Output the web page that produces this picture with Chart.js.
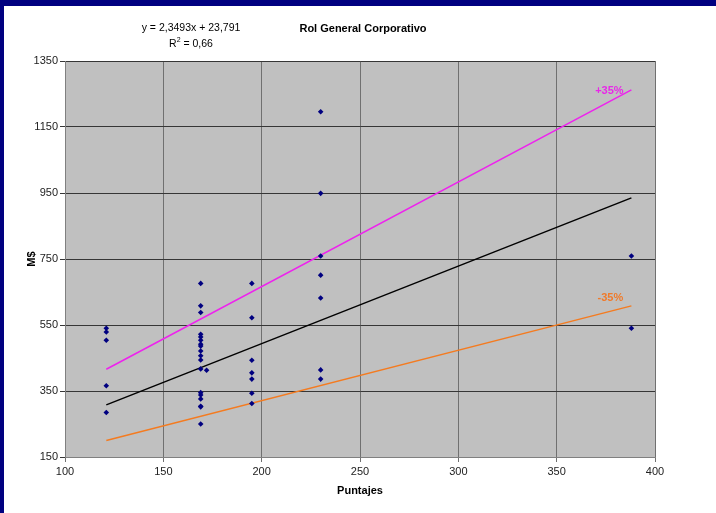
<!DOCTYPE html>
<html>
<head>
<meta charset="utf-8">
<script src="https://cdn.jsdelivr.net/npm/chart.js@4.4.1/dist/chart.umd.min.js"></script>
<style>
  html, body { margin: 0; padding: 0; background: #ffffff; }
  #frame { position: absolute; left: 0; top: 0; width: 716px; height: 513px; box-sizing: border-box;
           border-top: 6px solid #000080; border-left: 4px solid #000080; background: #ffffff; }
  #wrap { position: absolute; left: 0; top: 0; width: 716px; height: 513px; }
</style>
</head>
<body>
<div id="frame"></div>
<div id="wrap"><canvas id="c" width="716" height="513"></canvas></div>
<script>
// ---- data ----
const pointsX = [
  121, 121, 121, 121, 121,
  169, 169, 169, 169, 169, 169, 169, 169, 169, 169, 169, 169, 169, 169, 169, 169, 169, 169,
  172,
  195, 195, 195, 195, 195, 195, 195,
  230, 230, 230, 230, 230, 230, 230,
  388, 388
];
const pointsY = [
  540, 529, 504, 366, 285,
  676, 608, 588, 522, 514, 504, 492, 486, 471, 457, 444, 417, 345, 338, 326, 304, 302, 250,
  413,
  676, 572, 443, 405, 386, 343, 312,
  1196, 949, 759, 701, 632, 414, 386,
  759, 540
];
const lineX = [121, 388];
const trendY = [308.1, 935.3];
const upperY = [415.9, 1262.6];
const lowerY = [200.2, 608.0];
const xTicks = [100, 150, 200, 250, 300, 350, 400];
const yTicks = [150, 350, 550, 750, 950, 1150, 1350];
const chartTitle = 'Rol General Corporativo';
const equationText = 'y = 2,3493x + 23,791';
const r2Value = '0,66';
const xTitle = 'Puntajes';
const yTitle = 'M$';
const upperLabel = '+35%';
const lowerLabel = '-35%';

const FONT = '"Liberation Sans", Arial, sans-serif';

const pts = pointsX.map((x, i) => ({ x: x, y: pointsY[i] }));
const mk = (ys) => lineX.map((x, i) => ({ x: x, y: ys[i] }));

const bgPlugin = {
  id: 'plotBg',
  beforeDraw(chart) {
    const { ctx, chartArea: a } = chart;
    ctx.save();
    ctx.fillStyle = '#C0C0C0';
    ctx.fillRect(a.left, a.top, a.right - a.left, a.bottom - a.top);
    ctx.restore();
  }
};

const textPlugin = {
  id: 'texts',
  afterDraw(chart) {
    const { ctx } = chart;
    const xs = chart.scales.x, ys = chart.scales.y;
    ctx.save();
    ctx.textBaseline = 'middle';
    ctx.textAlign = 'center';
    ctx.fillStyle = '#000';
    ctx.font = 'bold 11px ' + FONT;
    ctx.fillText(chartTitle, 363, 29);
    ctx.font = '10.5px ' + FONT;
    ctx.fillText(equationText, 191, 28);
    // R^2 = value
    const a = 'R', b = ' = ' + r2Value;
    ctx.font = '10.5px ' + FONT;
    const wa = ctx.measureText(a).width, wb = ctx.measureText(b).width;
    ctx.font = '7px ' + FONT;
    const ws = ctx.measureText('2').width;
    let x0 = 191 - (wa + ws + wb) / 2;
    ctx.textAlign = 'left';
    ctx.font = '10.5px ' + FONT;
    ctx.fillText(a, x0, 44);
    ctx.font = '7px ' + FONT;
    ctx.fillText('2', x0 + wa, 40);
    ctx.font = '10.5px ' + FONT;
    ctx.fillText(b, x0 + wa + ws, 44);
    // line labels
    ctx.textAlign = 'center';
    ctx.font = 'bold 11px ' + FONT;
    ctx.fillStyle = '#E828E8';
    ctx.fillText(upperLabel, xs.getPixelForValue(lineX[1]) - 22, ys.getPixelForValue(upperY[1]) + 1);
    ctx.fillStyle = '#F07A2A';
    ctx.fillText(lowerLabel, xs.getPixelForValue(lineX[1]) - 21, ys.getPixelForValue(lowerY[1]) - 8);
    ctx.restore();
  }
};

new Chart(document.getElementById('c'), {
  type: 'scatter',
  data: {
    datasets: [
      { label: 'data', data: pts, order: 0, pointStyle: 'rectRot', pointRadius: 2.8,
        backgroundColor: '#000080', borderColor: '#000080', borderWidth: 0, showLine: false },
      { label: 'trend', type: 'line', data: mk(trendY), order: 1, borderColor: '#000000',
        borderWidth: 1.5, pointRadius: 0, tension: 0, fill: false },
      { label: 'upper', type: 'line', data: mk(upperY), order: 1, borderColor: '#EE22EE',
        borderWidth: 1.5, pointRadius: 0, tension: 0, fill: false },
      { label: 'lower', type: 'line', data: mk(lowerY), order: 1, borderColor: '#F47B20',
        borderWidth: 1.5, pointRadius: 0, tension: 0, fill: false }
    ]
  },
  options: {
    responsive: false,
    animation: false,
    devicePixelRatio: 1,
    layout: { padding: { left: 0, top: 61, right: 61, bottom: 0 } },
    plugins: { legend: { display: false }, tooltip: { enabled: false }, title: { display: false } },
    scales: {
      x: {
        type: 'linear', min: 100, max: 400,
        afterBuildTicks: (s) => { s.ticks = xTicks.map(v => ({ value: v })); },
        afterFit: (s) => { s.height = 56; },
        grid: { color: '#707070', lineWidth: 1, tickLength: 5, drawTicks: true },
        border: { display: true, color: '#808080', width: 1 },
        ticks: { color: '#222', font: { family: FONT, size: 11 }, padding: 3, maxRotation: 0,
                 callback: (v) => String(v) },
        title: { display: true, text: xTitle, color: '#000', font: { family: FONT, size: 11, weight: 'bold' },
                 padding: { top: 0, bottom: 15 } }
      },
      y: {
        type: 'linear', min: 150, max: 1350,
        afterBuildTicks: (s) => { s.ticks = yTicks.map(v => ({ value: v })); },
        afterFit: (s) => { s.width = 65; },
        grid: { color: '#363636', lineWidth: 1, tickLength: 5, drawTicks: true },
        border: { display: true, color: '#808080', width: 1 },
        ticks: { color: '#222', font: { family: FONT, size: 11 }, padding: 2,
                 callback: (v) => String(v) },
        title: { display: true, text: yTitle, color: '#000', font: { family: FONT, size: 11, weight: 'bold' },
                 padding: { top: 25, bottom: 0 } }
      }
    }
  },
  plugins: [bgPlugin, textPlugin]
});
</script>
</body>
</html>
